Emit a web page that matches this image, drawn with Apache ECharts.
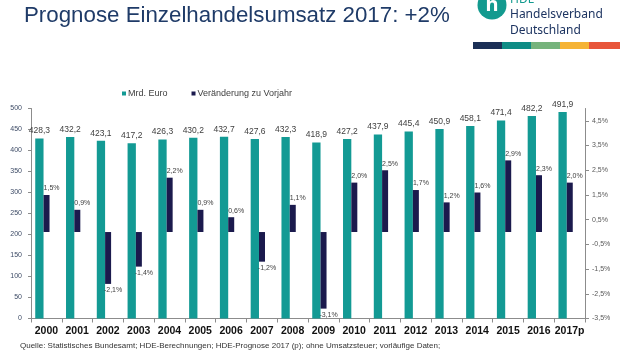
<!DOCTYPE html>
<html>
<head>
<meta charset="utf-8">
<script src="https://cdn.jsdelivr.net/npm/echarts@6/dist/echarts.min.js"></script>
<style>
  html, body { margin: 0; padding: 0; background: #fff; }
  #chart { width: 620px; height: 350px; }
</style>
</head>
<body>
<div id="chart"></div>
<script>
var years = ['2000', '2001', '2002', '2003', '2004', '2005', '2006', '2007', '2008',
    '2009', '2010', '2011', '2012', '2013', '2014', '2015', '2016', '2017p'];
var umsatz = [428.3, 432.2, 423.1, 417.2, 426.3, 430.2, 432.7, 427.6, 432.3,
    418.9, 427.2, 437.9, 445.4, 450.9, 458.1, 471.4, 482.2, 491.9];
var veraenderung = [1.5, 0.9, -2.1, -1.4, 2.2, 0.9, 0.6, -1.2, 1.1,
    -3.1, 2.0, 2.5, 1.7, 1.2, 1.6, 2.9, 2.3, 2.0];
var seriesNames = ['Mrd. Euro', 'Veränderung zu Vorjahr'];

var teal = '#139a94';
var navy = '#1b1a4d';
var font = 'Liberation Sans';

function komma(v, d) {
    return v.toFixed(d).replace('.', ',');
}

var myChart = echarts.init(document.getElementById('chart'));

option = {
    backgroundColor: '#fff',
    textStyle: { fontFamily: font },
    title: {
        text: 'Prognose Einzelhandelsumsatz 2017: +2%',
        left: 19,
        top: 0,
        textStyle: { fontSize: 22.3, fontWeight: 'normal', color: '#1f3b68', fontFamily: font }
    },
    graphic: [
        { type: 'circle', shape: { cx: 492, cy: 5, r: 14.5 }, style: { fill: '#139a8f' } },
        { type: 'text', x: 492, y: 5, style: { text: 'h', fill: '#fff', font: 'bold 20px "Noto Sans"', align: 'center', verticalAlign: 'middle' } },
        { type: 'text', x: 510, y: -6, style: { text: 'HDE', fill: '#139a8f', font: '12px "Noto Sans"' } },
        { type: 'text', x: 510, y: 9, style: { text: 'Handelsverband', fill: '#1d3461', font: '12px "Noto Sans"' } },
        { type: 'text', x: 510, y: 25, style: { text: 'Deutschland', fill: '#1d3461', font: '12px "Noto Sans"' } },
        { type: 'rect', shape: { x: 473, y: 42, width: 29, height: 7 }, style: { fill: '#1b2f56' } },
        { type: 'rect', shape: { x: 502, y: 42, width: 29, height: 7 }, style: { fill: '#0e8c85' } },
        { type: 'rect', shape: { x: 531, y: 42, width: 29, height: 7 }, style: { fill: '#76b37c' } },
        { type: 'rect', shape: { x: 560, y: 42, width: 29, height: 7 }, style: { fill: '#f5b335' } },
        { type: 'rect', shape: { x: 589, y: 42, width: 31, height: 7 }, style: { fill: '#e8553a' } },
        { type: 'text', x: 20, y: 342, style: { text: 'Quelle: Statistisches Bundesamt; HDE-Berechnungen; HDE-Prognose 2017 (p); ohne Umsatzsteuer; vorläufige Daten;', fill: '#333', font: '8px "Liberation Sans"' } }
    ],
    legend: {
        data: seriesNames,
        left: 117,
        top: 84,
        itemWidth: 4,
        itemHeight: 4,
        itemGap: 24,
        icon: 'rect',
        textStyle: { fontSize: 9, color: '#404040', padding: [0, 0, 0, -3] }
    },
    grid: { left: 31, right: 35, top: 108.5, bottom: 31.5 },
    xAxis: {
        type: 'category',
        data: years,
        axisLine: { lineStyle: { color: '#8c8c8c' } },
        axisTick: { show: true, length: 4, lineStyle: { color: '#8c8c8c' } },
        axisLabel: { interval: 0, fontSize: 10.5, fontWeight: 'bold', color: '#111', margin: 7 }
    },
    yAxis: [
        {
            type: 'value',
            min: 0,
            max: 500,
            interval: 50,
            splitLine: { show: false },
            axisLine: { show: true, lineStyle: { color: '#8c8c8c' } },
            axisTick: { show: true, length: 3, lineStyle: { color: '#8c8c8c' } },
            axisLabel: { fontSize: 7, color: '#3d4b66', margin: 9 }
        },
        {
            type: 'value',
            min: -3.5,
            max: 5,
            interval: 1,
            splitLine: { show: false },
            axisLine: { show: true, lineStyle: { color: '#8c8c8c' } },
            axisTick: { show: true, length: 4, lineStyle: { color: '#8c8c8c' } },
            axisLabel: {
                fontSize: 7,
                color: '#595959',
                margin: 7,
                showMaxLabel: false,
                formatter: function (v) { return komma(v, 1) + '%'; }
            }
        }
    ],
    series: [
        {
            name: seriesNames[0],
            type: 'bar',
            yAxisIndex: 0,
            barWidth: 8.3,
            barGap: '0%',
            itemStyle: { color: teal },
            label: {
                show: true,
                position: 'top',
                distance: 3,
                fontSize: 8.5,
                color: '#404040',
                formatter: function (p) { return komma(p.value, 1); }
            },
            data: umsatz
        },
        {
            name: seriesNames[1],
            type: 'bar',
            yAxisIndex: 1,
            barWidth: 6,
            barGap: '0%',
            itemStyle: { color: navy },
            label: {
                show: true,
                distance: 3,
                offset: [5, 0],
                fontSize: 7,
                color: '#404040',
                formatter: function (p) { return komma(p.value, 1) + '%'; }
            },
            data: veraenderung.map(function (v) {
                return { value: v, label: { position: v < 0 ? 'bottom' : 'top' } };
            })
        },
        {
            // leerer Platzhalter, damit die Balkengruppe links vom Kategoriemittelpunkt sitzt
            type: 'bar',
            yAxisIndex: 0,
            barWidth: 8,
            barGap: '0%',
            silent: true,
            data: []
        }
    ]
};

if (option && typeof option === 'object') {
    myChart.setOption(option, true);
}
</script>
</body>
</html>
